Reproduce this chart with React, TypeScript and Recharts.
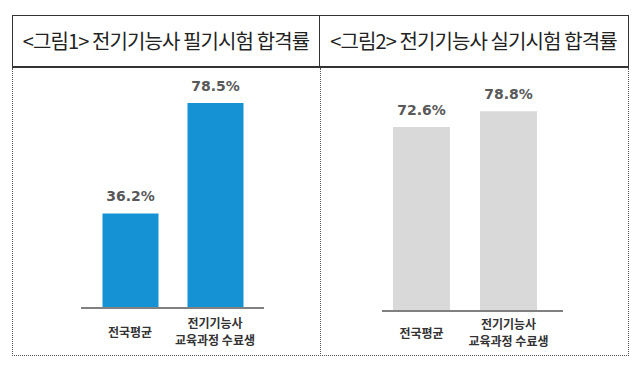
import * as React from "react";
import { BarChart, Bar, XAxis, YAxis, LabelList } from "recharts";

const panelTitles = [
  "<그림1> 전기기능사 필기시험 합격률",
  "<그림2> 전기기능사 실기시험 합격률",
];
const categories = ["전국평균", "전기기능사\n교육과정 수료생"];
const writtenPassRate = [36.2, 78.5];
const practicalPassRate = [72.6, 78.8];

const writtenData = categories.map((name, i) => ({ name, value: writtenPassRate[i] }));
const practicalData = categories.map((name, i) => ({ name, value: practicalPassRate[i] }));

const KR_FONT = "'Noto Sans CJK KR', 'Noto Sans', sans-serif";

const makeTick = (single: number, first: number) => (props: any) => {
  const { x, y, payload } = props;
  const lines = String(payload.value).split("\n");
  const start = lines.length === 1 ? single : first;
  return (
    <text
      x={x}
      y={y}
      textAnchor="middle"
      fontFamily={KR_FONT}
      fontWeight={700}
      fontSize={12}
      fill="#333333"
    >
      {lines.map((l, i) => (
        <tspan key={i} x={x} y={y + start + i * 16.5}>
          {l}
        </tspan>
      ))}
    </text>
  );
};

const labelFmt = (v: any) => `${Number(v).toFixed(1)}%`;

interface PanelProps {
  data: { name: string; value: number }[];
  color: string;
  width: number;
  margin: { top: number; right: number; bottom: number; left: number };
  padding: { left: number; right: number };
  barSize: number;
  tick: (p: any) => React.ReactElement;
}

const Panel: React.FC<PanelProps> = ({ data, color, width, margin, padding, barSize, tick }) => (
  <BarChart width={width} height={289} data={data} margin={margin}>
    <XAxis
      dataKey="name"
      height={40}
      interval={0}
      padding={padding}
      tickLine={false}
      tickSize={0}
      tickMargin={0}
      axisLine={{ stroke: "#808080", strokeWidth: 2 }}
      tick={tick}
    />
    <YAxis hide domain={[0, 90]} />
    <Bar dataKey="value" fill={color} barSize={barSize} isAnimationActive={false}>
      <LabelList
        dataKey="value"
        position="top"
        offset={12}
        formatter={labelFmt}
        fill="#595959"
        fontSize={14}
        fontWeight={700}
        fontFamily="'DejaVu Sans', sans-serif"
      />
    </Bar>
  </BarChart>
);

const titleStyle: React.CSSProperties = {
  position: "absolute",
  top: 0,
  height: 50,
  lineHeight: "50px",
  textAlign: "center",
  fontFamily: KR_FONT,
  fontSize: 20,
  letterSpacing: -0.9,
  color: "#222",
  whiteSpace: "nowrap",
};

export default function App() {
  return (
    <div
      style={{
        position: "absolute",
        left: 0,
        top: 0,
        width: 640,
        height: 371,
        background: "#fff",
        overflow: "hidden",
      }}
    >
      {/* header row */}
      <div
        style={{
          position: "absolute",
          left: 12,
          top: 15,
          width: 617,
          height: 53,
          border: "1.5px solid #333",
          borderBottomWidth: 2,
          boxSizing: "border-box",
        }}
      >
        <div style={{ ...titleStyle, left: 0, width: 306 }}>{panelTitles[0]}</div>
        <div
          style={{
            position: "absolute",
            left: 306,
            top: 0,
            height: "100%",
            borderLeft: "1.5px solid #333",
          }}
        />
        <div style={{ ...titleStyle, left: 307, width: 307 }}>{panelTitles[1]}</div>
      </div>

      {/* body */}
      <div
        style={{
          position: "absolute",
          left: 12,
          top: 68,
          width: 617,
          height: 288,
          border: "1px dotted #555",
          borderTop: "none",
          boxSizing: "border-box",
        }}
      />
      <div
        style={{
          position: "absolute",
          left: 320,
          top: 68,
          height: 288,
          borderLeft: "1px dotted #555",
        }}
      />

      <div style={{ position: "absolute", left: 12, top: 67 }}>
        <Panel
          data={writtenData}
          color="#1592D4"
          width={307}
          margin={{ top: 6, right: 55, bottom: 8, left: 69 }}
          padding={{ left: 6.5, right: 6.5 }}
          barSize={56}
          tick={makeTick(28.5, 20)}
        />
      </div>
      <div style={{ position: "absolute", left: 320, top: 67 }}>
        <Panel
          data={practicalData}
          color="#D9D9D9"
          width={309}
          margin={{ top: 16, right: 66, bottom: 5, left: 62 }}
          padding={{ left: -4, right: 11 }}
          barSize={57}
          tick={makeTick(26.5, 18)}
        />
      </div>
    </div>
  );
}
